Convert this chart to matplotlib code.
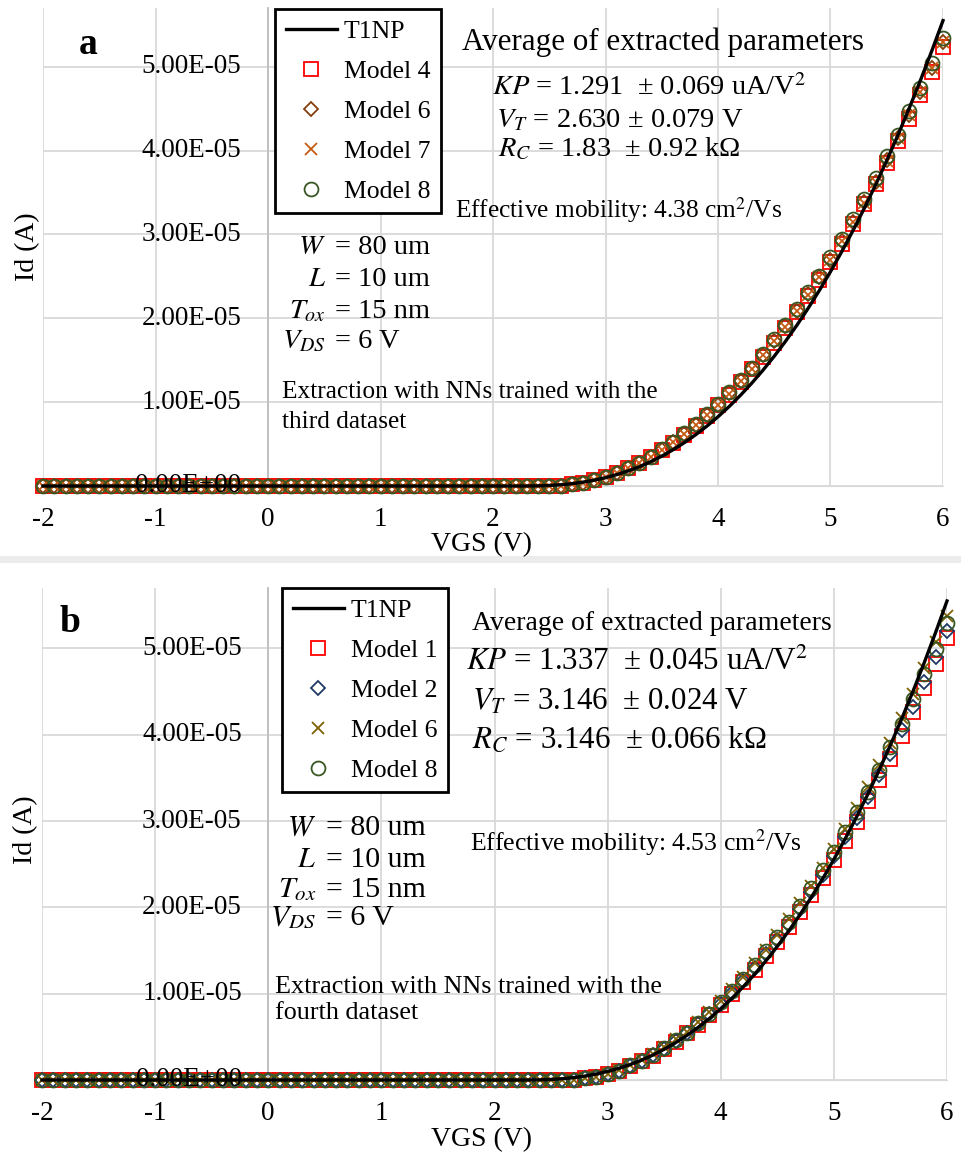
import numpy as np
import matplotlib
matplotlib.use("Agg")
import matplotlib.pyplot as plt
from matplotlib.patches import Rectangle

plt.rcParams['font.family'] = ['Liberation Serif', 'DejaVu Serif']
plt.rcParams['mathtext.fontset'] = 'stix'

W, H = 962, 1155

# ---------------- data (drain current in units of 1e-5 A) ----------------
vgs = np.round(np.arange(-2.0, 6.0001, 0.1), 1)          # 81 points, 0.1 V step
x_ticks = [-2, -1, 0, 1, 2, 3, 4, 5, 6]
x_tick_labels = ["-2", "-1", "0", "1", "2", "3", "4", "5", "6"]
y_ticks_e5 = [0, 1, 2, 3, 4, 5]
y_tick_labels = ["0.00E+00", "1.00E-05", "2.00E-05", "3.00E-05", "4.00E-05", "5.00E-05"]

# T1NP reference curve: zero for VGS -2.0 ... 2.2, values from 2.3 ... 6.0
t1np_off = [0.0] * 43
t1np_on = [0.0001, 0.0018, 0.0064, 0.0148, 0.0277, 0.0457, 0.0694, 0.0993,
           0.1358, 0.1793, 0.2302, 0.2890, 0.3560,
           0.4316, 0.5160, 0.6096, 0.7127, 0.8257,
           0.9487, 1.0822, 1.2263, 1.3813, 1.5476,
           1.7254, 1.9147, 2.1162, 2.3298, 2.5558,
           2.7946, 3.0463, 3.3109, 3.5890, 3.8808,
           4.1862, 4.5055, 4.8391, 5.1873, 5.5499]
t1np = t1np_off + t1np_on

# model series: zero for VGS -2.0 ... 2.5, values from 2.6 ... 6.0
model_off = [0.0] * 46
# panel a (third dataset)
a_model4 = model_off + [0.00, 0.02, 0.04, 0.07, 0.11, 0.16, 0.21, 0.28, 0.35, 0.43,
                        0.51, 0.61, 0.72, 0.84, 0.96, 1.09, 1.24, 1.39, 1.54, 1.71,
                        1.89, 2.07, 2.26, 2.46, 2.67, 2.89, 3.12, 3.36, 3.60, 3.85,
                        4.11, 4.38, 4.66, 4.94, 5.24]
a_model6 = model_off + [0.00, 0.02, 0.04, 0.07, 0.11, 0.16, 0.21, 0.28, 0.35, 0.43,
                        0.52, 0.62, 0.73, 0.85, 0.97, 1.11, 1.25, 1.40, 1.56, 1.73,
                        1.91, 2.09, 2.29, 2.49, 2.70, 2.92, 3.15, 3.39, 3.63, 3.89,
                        4.15, 4.42, 4.70, 4.99, 5.29]
a_model7 = model_off + [0.00, 0.02, 0.04, 0.07, 0.11, 0.16, 0.21, 0.28, 0.35, 0.43,
                        0.52, 0.62, 0.73, 0.85, 0.97, 1.10, 1.25, 1.40, 1.56, 1.73,
                        1.90, 2.09, 2.28, 2.49, 2.70, 2.92, 3.15, 3.38, 3.63, 3.88,
                        4.15, 4.42, 4.70, 4.99, 5.29]
a_model8 = model_off + [0.00, 0.02, 0.04, 0.07, 0.11, 0.16, 0.21, 0.28, 0.35, 0.44,
                        0.53, 0.63, 0.74, 0.86, 0.98, 1.12, 1.26, 1.41, 1.58, 1.75,
                        1.92, 2.11, 2.31, 2.51, 2.73, 2.95, 3.18, 3.42, 3.67, 3.93,
                        4.19, 4.47, 4.75, 5.04, 5.34]
# panel b (fourth dataset)
b_model1 = model_off + [0.00, 0.00, 0.02, 0.04, 0.07, 0.11, 0.16, 0.22, 0.28, 0.36,
                        0.44, 0.54, 0.64, 0.75, 0.87, 1.00, 1.13, 1.28, 1.44, 1.60,
                        1.77, 1.95, 2.14, 2.34, 2.55, 2.77, 2.99, 3.23, 3.47, 3.72,
                        3.99, 4.26, 4.54, 4.82, 5.12]
b_model2 = model_off + [0.00, 0.00, 0.02, 0.04, 0.07, 0.11, 0.16, 0.22, 0.29, 0.36,
                        0.45, 0.54, 0.65, 0.76, 0.88, 1.01, 1.15, 1.30, 1.46, 1.62,
                        1.80, 1.98, 2.18, 2.38, 2.59, 2.81, 3.04, 3.28, 3.53, 3.78,
                        4.05, 4.32, 4.61, 4.90, 5.20]
b_model6 = model_off + [0.00, 0.00, 0.02, 0.04, 0.07, 0.12, 0.17, 0.23, 0.30, 0.38,
                        0.47, 0.56, 0.67, 0.79, 0.91, 1.05, 1.19, 1.35, 1.51, 1.68,
                        1.86, 2.05, 2.25, 2.46, 2.68, 2.91, 3.15, 3.39, 3.65, 3.91,
                        4.19, 4.47, 4.77, 5.07, 5.38]
b_model8 = model_off + [0.00, 0.00, 0.02, 0.04, 0.07, 0.11, 0.17, 0.22, 0.29, 0.37,
                        0.46, 0.55, 0.66, 0.77, 0.90, 1.03, 1.17, 1.33, 1.49, 1.66,
                        1.83, 2.02, 2.22, 2.43, 2.64, 2.87, 3.10, 3.34, 3.59, 3.86,
                        4.13, 4.41, 4.70, 4.99, 5.30]

scale = 1e-5

panel_a_series = [("Model 4", a_model4, "s", "#FF0000", 9.5),
                  ("Model 6", a_model6, "D", "#843C0C", 7.0),
                  ("Model 7", a_model7, "x", "#C55A11", 8.5),
                  ("Model 8", a_model8, "o", "#385723", 10.0)]
panel_b_series = [("Model 1", b_model1, "s", "#FF0000", 9.5),
                  ("Model 2", b_model2, "D", "#1F3864", 7.0),
                  ("Model 6", b_model6, "x", "#7F6000", 8.5),
                  ("Model 8", b_model8, "o", "#385723", 10.0)]


def fx(x):
    return x / W


def fy(y):
    return 1 - y / H


fig = plt.figure(figsize=(W / 100, H / 100), dpi=100)

# faint separator between panels
fig.add_artist(Rectangle((0, fy(563)), 1, 7 / H, transform=fig.transFigure,
                         facecolor="#ececec", edgecolor="none"))


def make_panel(rect, series, legend_anchor):
    ax = fig.add_axes(rect)
    ax.set_xlim(-2, 6)
    ax.set_ylim(0, 5.7e-5)
    for label, vals, marker, color, ms in series:
        ax.plot(vgs, np.array(vals) * scale, linestyle="none", marker=marker,
                ms=ms, mfc="none", mec=color, mew=1.3, label=label,
                clip_on=False, zorder=3)
    ax.plot(vgs, np.array(t1np) * scale, color="black", lw=2.4,
            label="T1NP", zorder=4, clip_on=False)
    ax.set_xticks(x_ticks)
    ax.set_xticklabels(x_tick_labels)
    ax.set_yticks([v * scale for v in y_ticks_e5])
    ax.set_yticklabels([])
    ax.grid(True, color="#d9d9d9", lw=1.3, zorder=0)
    ax.set_axisbelow(True)
    for s in ["top", "right"]:
        ax.spines[s].set_visible(False)
    ax.spines["bottom"].set_color("#d9d9d9")
    ax.spines["left"].set_position(("data", 0))
    ax.spines["left"].set_color("#bfbfbf")
    ax.spines["left"].set_linewidth(1.3)
    ax.tick_params(length=0, labelsize=19.5, pad=15)
    for v, lab in zip(y_ticks_e5, y_tick_labels):
        ax.annotate(lab, xy=(0, v * scale), xytext=(-19, 0),
                    textcoords="offset points", ha="right", va="center",
                    fontsize=19.5, zorder=10, annotation_clip=False)
    handles, labels = ax.get_legend_handles_labels()
    handles = [handles[-1]] + handles[:-1]
    labels = [labels[-1]] + labels[:-1]
    leg = ax.legend(handles, labels, loc="upper left",
                    bbox_to_anchor=legend_anchor, bbox_transform=fig.transFigure,
                    borderaxespad=0, fontsize=18.5, handlelength=2.0,
                    handletextpad=0.25, borderpad=0.42, labelspacing=0.66,
                    fancybox=False, framealpha=1, edgecolor="black")
    leg.get_frame().set_linewidth(2.0)
    leg.set_zorder(20)
    return ax


ax_a = make_panel([fx(43), fy(486), fx(943) - fx(43), fy(8) - fy(486)],
                  panel_a_series, (fx(275), fy(9)))
ax_b = make_panel([fx(42), fy(1080), fx(947) - fx(42), fy(588) - fy(1080)],
                  panel_b_series, (fx(282), fy(588)))


def t(x, y, s, size, ha="left", va="center", **kw):
    fig.text(fx(x), fy(y), s, fontsize=size, ha=ha, va=va, **kw)


# axis labels
t(28, 247, "Id (A)", 20, ha="center", rotation=90)
t(482, 545, "VGS (V)", 20, ha="center")
t(26, 830, "Id (A)", 20, ha="center", rotation=90)
t(482, 1140, "VGS (V)", 20, ha="center")

# panel letters
t(88, 45, "a", 27, ha="center", fontweight="bold")
t(70, 622, "b", 27, ha="center", fontweight="bold")

# panel a annotations
t(462, 42, "Average of extracted parameters", 22.3)
t(492, 88, r"$KP$ = 1.291  ± 0.069 uA/V$^2$", 20.5)
t(496, 121, r"$V_T$ = 2.630 ± 0.079 V", 20.5)
t(498, 149, r"$R_C$ = 1.83  ± 0.92 kΩ", 20.5)
t(455, 210, r"Effective mobility: 4.38 cm$^2$/Vs", 18.3)
for lhs, rhs, y in [(r"$W$", "= 80 um", 248), (r"$L$", "= 10 um", 280),
                    (r"$T_{ox}$", "= 15 nm", 312), (r"$V_{DS}$", "= 6 V", 342)]:
    t(326, y, lhs, 20.5, ha="right")
    t(335, y, rhs, 20.5)
t(282, 392, "Extraction with NNs trained with the", 18.3)
t(282, 422, "third dataset", 18.3)

# panel b annotations
t(472, 623, "Average of extracted parameters", 20)
t(466, 662, r"$KP$ = 1.337  ± 0.045 uA/V$^2$", 22.3)
t(472, 702, r"$V_T$ = 3.146  ± 0.024 V", 22.3)
t(472, 740, r"$R_C$ = 3.146  ± 0.066 kΩ", 22.3)
t(470, 843, r"Effective mobility: 4.53 cm$^2$/Vs", 18.5)
for lhs, rhs, y in [(r"$W$", "= 80 um", 828), (r"$L$", "= 10 um", 860),
                    (r"$T_{ox}$", "= 15 nm", 890), (r"$V_{DS}$", "= 6 V", 918)]:
    t(316, y, lhs, 21.5, ha="right")
    t(326, y, rhs, 21.5)
t(275, 987, "Extraction with NNs trained with the", 18.8)
t(275, 1013, "fourth dataset", 18.8)

fig.savefig("out.png", dpi=100)
